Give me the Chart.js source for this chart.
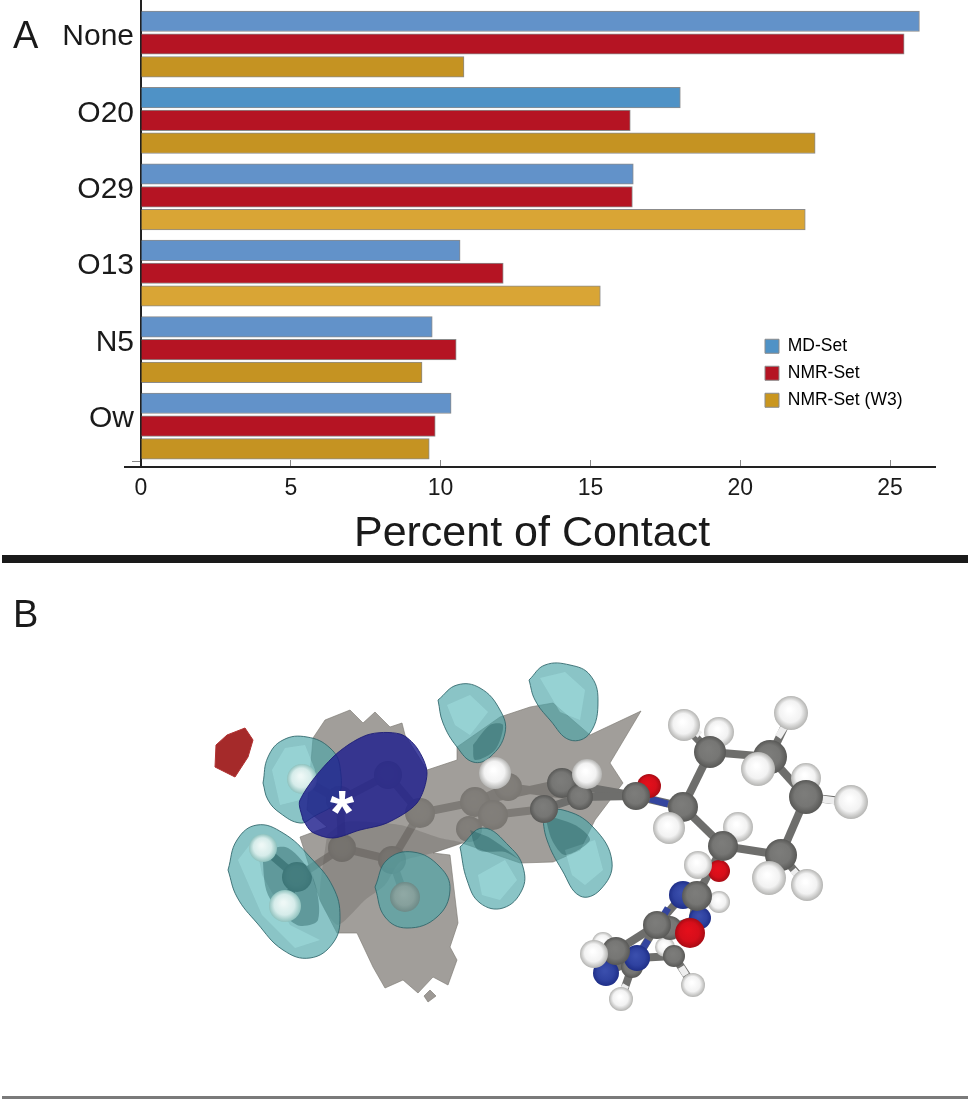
<!DOCTYPE html>
<html>
<head>
<meta charset="utf-8">
<title>Percent of Contact</title>
<script src="https://cdn.jsdelivr.net/npm/chart.js@4"></script>
<style>
  html, body { margin: 0; padding: 0; background: #fff; }
  #page { position: relative; width: 969px; height: 1099px; overflow: hidden; font-family: "Liberation Sans", sans-serif; color: #1a1a1a; }
  canvas { position: absolute; left: 0; }
  #chartA { top: 0; }
  #chartB { top: 570px; }
  .panel { position: absolute; left: 13px; font-size: 38px; line-height: 38px; }
  #stub { position: absolute; left: 124px; width: 17px; top: 466px; height: 2px; background: #222; }
  #rule { position: absolute; left: 2px; width: 966px; top: 555px; height: 8px; background: #1a1a1a; }
  #floor { position: absolute; left: 2px; width: 966px; top: 1096px; height: 3px; background: #7a7a7a; }
  #star { position: absolute; left: 330px; top: 781px; font-size: 62px; line-height: 62px; font-weight: bold; color: #fff; }
</style>
</head>
<body>
<div id="page">
  <canvas id="chartA" width="969" height="560"></canvas>
  <canvas id="chartB" width="969" height="529"></canvas>
  <div class="panel" style="top:16px">A</div>
  <div id="stub"></div>
  <div id="rule"></div>
  <div class="panel" style="top:595px">B</div>
  <div id="star">*</div>
  <div id="floor"></div>
</div>
<script>
// panel A
const categories = ['None', 'O20', 'O29', 'O13', 'N5', 'Ow'];
const seriesNames = ['MD-Set', 'NMR-Set', 'NMR-Set (W3)'];
const mdSet = [25.98, 18.0, 16.43, 10.65, 9.72, 10.35];
const nmrSet = [25.47, 16.33, 16.4, 12.09, 10.52, 9.82];
const nmrW3 = [10.78, 22.5, 22.17, 15.33, 9.38, 9.62];
const mdColors = ['#6292c9', '#4f92c6', '#6292c9', '#6292c9', '#6292c9', '#6292c9'];
const nmrColors = ['#b51423', '#b51423', '#b51423', '#b51423', '#b51423', '#b51423'];
const w3Colors = ['#c59322', '#c59322', '#d9a535', '#d9a535', '#c59322', '#c59322'];
const legendColors = ['#4f92c6', '#b51423', '#c9961f'];

// panel B as [x, y] and [x, y, r, element]
const redBlob = [[216,745],[227,735],[245,728],[253,740],[248,757],[235,777],[215,767]];
const greyChip = [[430,990],[436,996],[428,1002],[424,996]];
const greySurface = [[313,738],[325,720],[350,710],[363,723],[375,712],[390,727],[402,723],[405,735],[427,770],[457,760],[457,747],[500,717],[530,707],[553,703],[590,735],[641,711],[610,763],[623,783],[595,820],[580,850],[553,862],[520,863],[462,843],[433,853],[450,855],[458,923],[450,947],[457,960],[448,985],[433,977],[418,993],[403,980],[385,988],[373,967],[357,933],[337,933],[320,900],[300,837],[327,827],[307,810]];
const greyShade = [[327,835],[345,822],[400,825],[440,838],[462,843],[433,853],[400,862],[385,885],[365,900],[338,925],[320,900]];
const cyanBlobs = [
  [[263,783],[268,757],[283,740],[307,737],[330,748],[340,767],[337,800],[313,817],[300,823],[280,813],[268,800]],
  [[228,870],[237,840],[257,825],[283,833],[310,857],[333,887],[340,917],[333,943],[310,958],[283,950],[257,923],[237,897]],
  [[375,887],[387,860],[413,852],[440,867],[450,890],[437,917],[407,928],[385,917]],
  [[438,700],[457,685],[480,688],[500,710],[505,733],[490,757],[473,762],[457,747],[443,723]],
  [[460,847],[483,828],[510,847],[523,867],[522,890],[503,908],[480,903],[467,880]],
  [[529,680],[545,665],[570,665],[590,675],[598,700],[590,733],[570,740],[550,720],[535,700]],
  [[542,813],[563,810],[593,827],[612,862],[600,890],[580,896],[562,870],[547,840]]
];
const cyanLights = [
  [[272,770],[285,748],[305,745],[315,770],[300,800],[280,805]],
  [[238,860],[255,838],[262,875],[290,925],[320,940],[295,948],[262,915]],
  [[447,705],[470,695],[488,712],[470,735],[455,725]],
  [[478,875],[505,860],[517,880],[500,900],[482,895]],
  [[540,678],[565,672],[585,690],[580,720],[560,712]],
  [[565,850],[595,840],[603,870],[585,885],[572,875]]
];
const cyanDarks = [
  [[262,850],[288,848],[313,878],[318,920],[297,925],[268,895]],
  [[473,745],[490,725],[503,725],[495,750],[475,760]],
  [[470,830],[490,838],[520,860],[505,852],[478,850]],
  [[545,815],[575,825],[590,840],[565,855],[552,840]]
];
const blueCapsule = [[303,820],[300,800],[333,757],[367,735],[400,734],[417,748],[427,773],[417,803],[387,823],[360,830],[333,838],[312,832]];
const innerBonds = [[420,813,475,802],[420,813,388,775],[388,775,340,800],[340,800,342,848],[342,848,392,860],[392,860,420,813],[392,860,405,897],[342,848,297,877],[297,877,263,848],[297,877,285,906],[340,800,302,779],[475,802,562,783],[493,815,544,809],[508,787,580,797],[475,802,493,815],[469,829,493,815],[475,802,508,787]];
const innerAtoms = [[508,787,14,'C'],[475,802,15,'C'],[469,829,13,'C'],[493,815,15,'C'],[420,813,15,'C'],[388,775,14,'C'],[340,800,14,'C'],[342,848,14,'C'],[392,860,14,'C'],[297,877,15,'C']];
const paleAtoms = [[405,897,15,'T'],[263,848,14,'P'],[285,906,16,'P'],[302,779,15,'P']];
const outerBonds = [[562,783,636,796],[544,809,580,797],[580,797,636,796],[636,796,683,807],[683,807,710,752],[710,752,770,757],[770,757,806,797],[806,797,781,855],[781,855,723,846],[723,846,683,807],[710,752,684,725],[710,752,719,732],[770,757,791,713],[806,797,851,802],[781,855,807,885],[723,846,697,896],[697,896,690,933],[683,895,657,925],[657,925,616,951],[657,925,637,958],[637,958,674,956],[674,956,693,985],[632,967,621,999],[637,958,606,973],[670,928,700,918]];
const whiteBonds = [[778,737,785,726],[822,799,836,801],[793,870,800,878],[700,735,694,730],[626,985,623,990],[681,967,686,975]];
const blueBonds = [[650,799,668,804],[668,908,662,918],[648,940,642,950]];
const outerAtoms = [[544,809,14,'C'],[562,783,15,'C'],[580,797,13,'C'],[587,774,15,'H'],[495,773,16,'H'],[719,732,15,'H'],[806,778,15,'H'],[649,786,12,'O'],[738,827,15,'H'],[719,871,11,'O'],[698,865,14,'H'],[710,752,16,'C'],[684,725,16,'H'],[770,757,17,'C'],[791,713,17,'H'],[758,769,17,'H'],[806,797,17,'C'],[851,802,17,'H'],[781,855,16,'C'],[769,878,17,'H'],[807,885,16,'H'],[683,807,15,'C'],[669,828,16,'H'],[723,846,15,'C'],[636,796,14,'C'],[665,947,10,'H'],[603,943,11,'H'],[606,973,13,'N'],[632,967,11,'C'],[621,999,12,'H'],[693,985,12,'H'],[674,956,11,'C'],[700,918,11,'N'],[683,895,14,'N'],[719,902,11,'H'],[670,928,12,'C'],[657,925,14,'C'],[637,958,13,'N'],[616,951,14,'C'],[594,954,14,'H'],[697,896,15,'C'],[690,933,15,'O']];
const atomShades = {
    C: ['#7c7c7a', '#767674', '#585856'],
    H: ['#ffffff', '#f2f2f2', '#b4b4b2'],
    O: ['#e30f1b', '#d60e1a', '#a80b14'],
    N: ['#3a4eac', '#2f42a0', '#1f2f88'],
    P: ['#eef8f6', '#d6ecea', '#8fc2be'],
    T: ['#8fa8a4', '#86a09c', '#6d8a87']
};

const barSet = (i, values, colors) => ({
    label: seriesNames[i],
    data: values.map((v, k) => ({ x: v, y: k })),
    backgroundColor: colors,
    borderColor: '#8b8b8b',
    borderWidth: 1,
    barThickness: 'flex',
    categoryPercentage: 0.895,
    barPercentage: 0.9
});

// legend sits inside the plot, below the long bars
const placeLegend = {
    id: 'placeLegend',
    afterLayout(chart) {
        const l = chart.legend;
        l.left = 755.5; l.right = 960; l.top = 328; l.bottom = 460;
    }
};

new Chart(document.getElementById('chartA'), {
    type: 'bar',
    plugins: [placeLegend],
    data: { datasets: [barSet(0, mdSet, mdColors), barSet(1, nmrSet, nmrColors), barSet(2, nmrW3, w3Colors)] },
    options: {
        indexAxis: 'y',
        responsive: false,
        animation: false,
        events: [],
        layout: { autoPadding: false, padding: { left: 0, right: 34, top: 0, bottom: 0 } },
        plugins: {
            tooltip: { enabled: false },
            legend: {
                position: 'chartArea',
                align: 'start',
                labels: {
                    boxWidth: 14, boxHeight: 14, padding: 9.5,
                    color: '#1a1a1a',
                    font: { family: 'Liberation Sans', size: 17.5 },
                    generateLabels: () => seriesNames.map((text, i) => ({
                        text, fillStyle: legendColors[i], strokeStyle: '#8b8b8b', lineWidth: 1, datasetIndex: i
                    }))
                }
            }
        },
        scales: {
            x: {
                type: 'linear',
                min: 0,
                max: 26.5,
                afterFit: s => { s.height = 93; },
                border: { color: '#222', width: 2 },
                grid: { drawOnChartArea: false, tickLength: -7, color: '#888' },
                ticks: { stepSize: 5, includeBounds: false, maxRotation: 0, padding: 15, color: '#1a1a1a', font: { family: 'Liberation Sans', size: 23 } },
                // trailing space: the title is centred a little left of the plot centre
                title: { display: true, text: 'Percent of Contact ', color: '#1a1a1a', padding: 0, font: { family: 'Liberation Sans', size: 43 } }
            },
            y: {
                type: 'linear',
                reverse: true,
                offset: false,
                min: -0.576,
                max: 5.536,
                afterFit: s => { s.width = 141; s.paddingTop = 0; s.paddingBottom = 0; },
                afterBuildTicks: s => { s.ticks = categories.map((c, i) => ({ value: i })).concat({ value: 5.46 }); },
                border: { color: '#222', width: 2 },
                grid: { offset: false, drawOnChartArea: false, tickLength: 9, color: c => (c.index === 6 ? '#888' : 'rgba(0,0,0,0)') },
                ticks: {
                    autoSkip: false,
                    includeBounds: false,
                    padding: -2,
                    labelOffset: -7,
                    color: '#1a1a1a',
                    font: { family: 'Liberation Sans', size: 30 },
                    callback: v => categories[v] ?? ''
                }
            }
        }
    }
});

// panel B helpers
const closed = pts => pts.concat([pts[0]]).map(p => ({ x: p[0], y: p[1] }));
const surface = (pts, fill, edge, tension) => ({
    type: 'line', data: closed(pts), fill: 'shape', backgroundColor: fill, borderColor: edge, borderWidth: 1, pointRadius: 0, tension: tension
});
const bondSet = (bonds, color, width) => bonds.map(b => ({
    type: 'line', data: [{ x: b[0], y: b[1] }, { x: b[2], y: b[3] }], borderColor: color, borderWidth: width, pointRadius: 0, fill: false
}));
const atomSet = atoms => ({
    type: 'bubble',
    data: atoms.map(a => ({ x: a[0], y: a[1], r: a[2], el: a[3] })),
    borderWidth: 0,
    backgroundColor: c => {
        if (!c.raw) return '#777';
        const px = c.chart.scales.x.getPixelForValue(c.raw.x);
        const py = c.chart.scales.y.getPixelForValue(c.raw.y);
        if (!isFinite(px) || !isFinite(py)) return '#777';  // asked before layout
        const r = c.raw.r;
        const g = c.chart.ctx.createRadialGradient(px - r * 0.1, py - r * 0.2, r * 0.1, px, py, r);
        const shade = atomShades[c.raw.el];
        g.addColorStop(0, shade[0]);
        g.addColorStop(0.6, shade[1]);
        g.addColorStop(1, shade[2]);
        return g;
    }
});

// layers bottom to top, Chart.js paints the last dataset first
const layers = [
    surface(redBlob, '#a52a2a', '#b03030', 0),
    ...bondSet(innerBonds, '#6e6e6c', 8),
    atomSet(innerAtoms),
    surface(greySurface, 'rgba(132,128,122,0.76)', 'rgba(120,116,110,0.6)', 0),
    surface(greyShade, 'rgba(90,86,82,0.28)', 'rgba(90,86,82,0)', 0.2),
    surface(greyChip, 'rgba(132,128,122,0.8)', 'rgba(120,116,110,0.6)', 0),
    ...cyanBlobs.map(b => surface(b, 'rgba(78,165,168,0.66)', 'rgba(45,100,104,0.85)', 0.42)),
    ...cyanLights.map(b => surface(b, 'rgba(170,232,232,0.4)', 'rgba(170,232,232,0)', 0)),
    ...cyanDarks.map(b => surface(b, 'rgba(30,85,88,0.38)', 'rgba(30,85,88,0)', 0.3)),
    atomSet(paleAtoms),
    surface(blueCapsule, 'rgba(30,30,140,0.82)', 'rgba(30,30,120,0.9)', 0.3),
    ...bondSet(outerBonds, '#6e6e6c', 8),
    ...bondSet(blueBonds, '#34459e', 7),
    ...bondSet(whiteBonds, '#eeeeee', 7),
    atomSet(outerAtoms)
];

new Chart(document.getElementById('chartB'), {
    type: 'bubble',
    data: { datasets: layers.reverse() },
    options: {
        responsive: false,
        animation: false,
        events: [],
        layout: { autoPadding: false, padding: 0 },
        plugins: { legend: { display: false }, tooltip: { enabled: false } },
        scales: {
            x: { type: 'linear', display: false, min: 0, max: 969 },
            y: { type: 'linear', display: false, reverse: true, min: 570, max: 1099 }
        }
    }
});
</script>
</body>
</html>
